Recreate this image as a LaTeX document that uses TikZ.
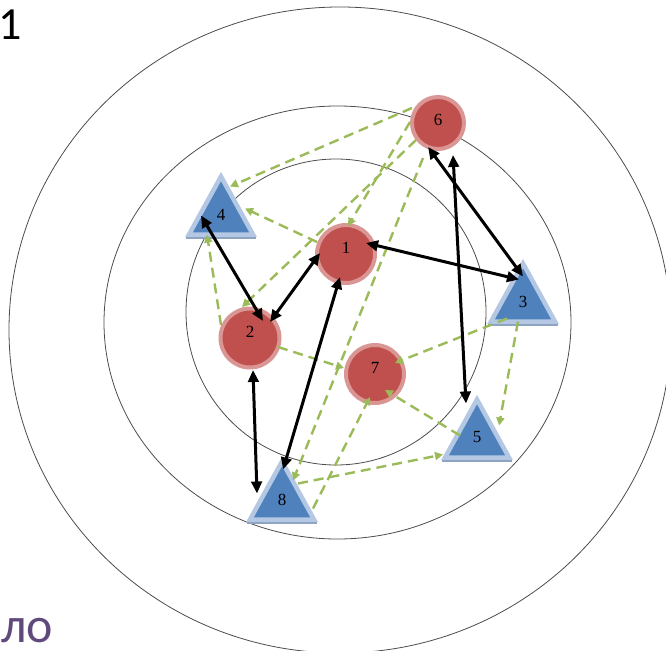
\documentclass[tikz,border=0pt]{standalone}
\usepackage{fontspec}
\setmainfont{Liberation Serif}
\newfontfamily\calib{Carlito}
\usetikzlibrary{arrows.meta}
\definecolor{cred}{HTML}{C0504D}
\definecolor{cring}{HTML}{D99694}
\definecolor{cblue}{HTML}{4F81BD}
\definecolor{cltblue}{HTML}{B4C8E4}
\definecolor{cshadow}{HTML}{8FA3C2}
\definecolor{cgreen}{HTML}{9BBB59}
\definecolor{cpurple}{HTML}{604A7B}
\newcommand{\tribox}[4]{%
  \draw[trishadow] (#2-35,#3+3.5) -- (#2+35,#3+3.5);
  \draw[tribody] (#2,#3-58) -- (#2-32,#3) -- (#2+32,#3) -- cycle;
  \node[lbl] (#1) at (#2,#3-20) {#4};
}
\begin{document}
\begin{tikzpicture}[x=1pt,y=-1pt,
  ring/.style={draw=black!70, line width=0.8pt},
  dot/.style={circle, fill=cred, draw=cring, line width=4pt, inner sep=0pt},
  lbl/.style={font=\fontsize{17}{17}\selectfont, inner sep=0pt},
  tribody/.style={fill=cblue, draw=cltblue, line width=4.5pt, line join=miter},
  trishadow/.style={draw=cshadow, line width=2pt},
  rel/.style={black, line width=3pt, {Triangle[length=12pt,width=10.5pt]}-{Triangle[length=12pt,width=10.5pt]}},
  infl/.style={cgreen, line width=2.4pt, dash pattern=on 10pt off 6pt, -{Triangle[length=8pt,width=8pt]}},
]
\clip (0,0) rectangle (666,650);
\useasboundingbox (0,0) rectangle (666,650);

% concentric rings
\draw[ring] (340,330) ellipse [x radius=331, y radius=323];
\draw[ring] (337.5,322.5) ellipse [x radius=233.5, y radius=216.5];
\draw[ring] (336,312) ellipse [x radius=150, y radius=153];

% round nodes
\node[dot, minimum size=52pt] (n6) at (438,123) {};
\node[dot, minimum size=58pt] (n1) at (346,254) {};
\node[dot, minimum size=59pt] (n2) at (250,338) {};
\node[dot, minimum size=58pt] (n7) at (375,374) {};
\node[lbl] (t6) at ([shift={(0,-3)}]n6.center) {6};
\node[lbl] (t1) at ([shift={(0,-6)}]n1.center) {1};
\node[lbl] (t2) at ([shift={(0,-6)}]n2.center) {2};
\node[lbl] (t7) at ([shift={(0,-6)}]n7.center) {7};

% triangular nodes
\tribox{n4}{221}{234.5}{4}
\tribox{n3}{523}{321.5}{3}
\tribox{n5}{477}{457.5}{5}
\tribox{n8}{282}{519.5}{8}

% dashed green influences
\draw[infl] ([shift={(-26,-15)}]n6.center) -- ([shift={(9,-28)}]n4.center);
\draw[infl] ([shift={(-29,-12)}]n1.center) -- ([shift={(24,-6)}]n4.center);
\draw[infl] ([shift={(-22,17)}]n6.center) -- ([shift={(-8,-31)}]n2.center);
\draw[infl] ([shift={(-28,-1)}]n6.center) -- ([shift={(2,-28)}]n1.center);
\draw[infl] ([shift={(-15,35)}]n6.center) -- ([shift={(11,-19)}]n8.center);
\draw[infl] ([shift={(16,-16)}]n8.center) -- ([shift={(-34,17)}]n5.center);
\draw[infl] ([shift={(28,9)}]n2.center) -- ([shift={(-31,-6)}]n7.center);
\draw[infl] ([shift={(-16,17)}]n3.center) -- ([shift={(20,-11)}]n7.center);
\draw[infl] ([shift={(-5,20)}]n3.center) -- ([shift={(22,-12)}]n5.center);
\draw[infl] ([shift={(-17,-2)}]n5.center) -- ([shift={(10,16)}]n7.center);
\draw[infl] ([shift={(-29,-13)}]n2.center) -- ([shift={(-14,20)}]n4.center);
\draw[infl] ([shift={(31,9)}]n8.center) -- ([shift={(-5,23)}]n7.center);

% black two-way links
\draw[rel] ([shift={(-20,1)}]n4.center) -- ([shift={(13,-17)}]n2.center);
\draw[rel] ([shift={(20,-16)}]n2.center) -- ([shift={(-26,-1)}]n1.center);
\draw[rel] ([shift={(20,-11)}]n1.center) -- ([shift={(-4,-22)}]n3.center);
\draw[rel] ([shift={(-10,24)}]n6.center) -- ([shift={(0,-25)}]n3.center);
\draw[rel] ([shift={(15,32)}]n6.center) -- ([shift={(-11,-34)}]n5.center);
\draw[rel] ([shift={(-6,23)}]n1.center) -- ([shift={(1,-30)}]n8.center);
\draw[rel] ([shift={(3,32)}]n2.center) -- ([shift={(-25,-6)}]n8.center);

% slide text
\node[anchor=base west, inner sep=0pt, font=\calib\fontsize{46}{46}\selectfont] (fig) at (-2,40) {1};
\node[anchor=base west, inner sep=0pt, text=cpurple, font=\calib\fontsize{50}{50}\selectfont] (word) at (1,642) {ло};
\end{tikzpicture}
\end{document}
